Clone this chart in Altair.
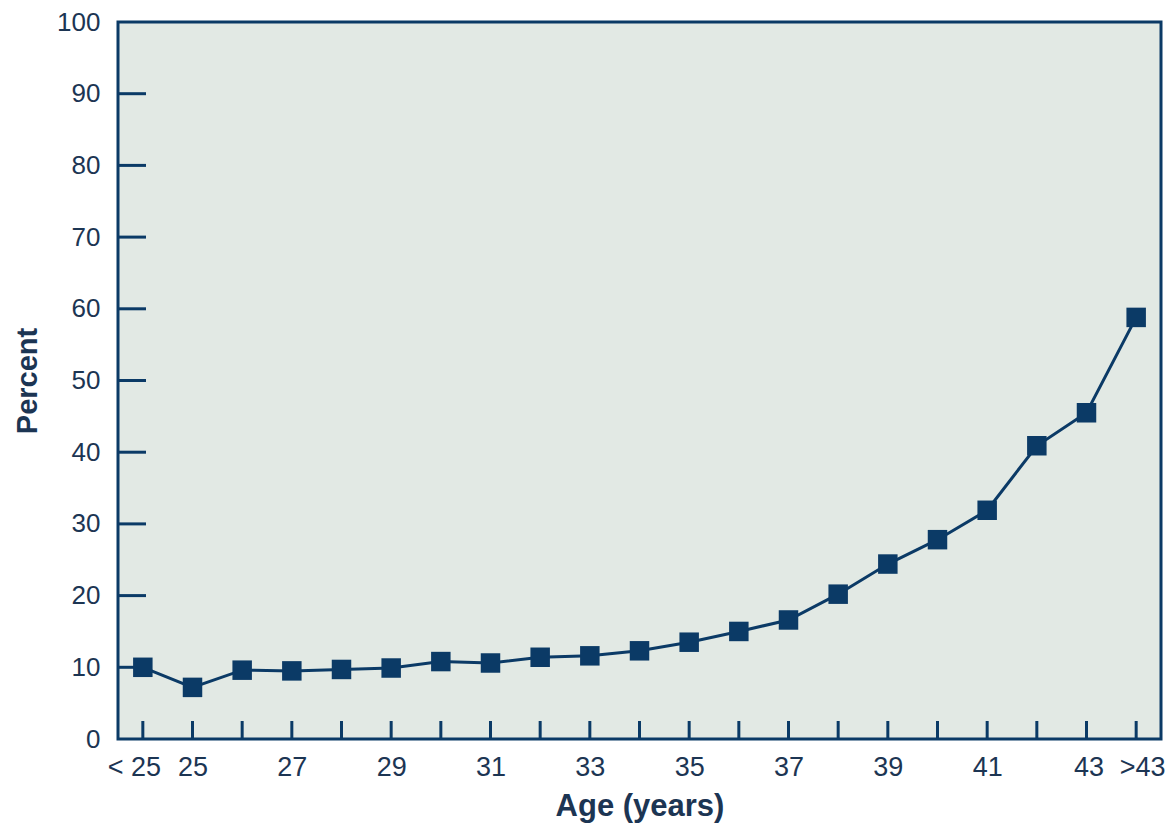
import altair as alt
import pandas as pd

ages = ["<25", "25", "26", "27", "28", "29", "30", "31", "32", "33", "34",
        "35", "36", "37", "38", "39", "40", "41", "42", "43", ">43"]
percent = [10.0, 7.2, 9.6, 9.5, 9.7, 9.9, 10.8, 10.6, 11.4, 11.6, 12.3,
           13.5, 15.0, 16.6, 20.2, 24.4, 27.8, 31.9, 40.9, 45.5, 58.8]
x_label_values = ["<25", "25", "27", "29", "31", "33", "35", "37", "39", "41", "43", ">43"]
y_tick_values = [10, 20, 30, 40, 50, 60, 70, 80, 90]

NAVY = "#0b3a66"
TEXT = "#1c3553"
FONT = "Liberation Sans"

df = pd.DataFrame({"age": ages, "pct": percent})
ytick_df = pd.DataFrame({"v": y_tick_values})

W, H = 1043, 717

xscale = alt.Scale(type="point", domain=ages, padding=0.5)
yscale = alt.Scale(domain=[0, 100])

x_enc = alt.X(
    "age:N", scale=xscale, sort=ages,
    axis=alt.Axis(
        title="Age (years)", values=x_label_values, ticks=False, domain=False,
        grid=False, labelAngle=0, labelAlign="center", labelFontSize=27,
        labelPadding=28, labelColor=TEXT, labelFont=FONT,
        labelExpr="datum.value == '<25' ? '< 25' : datum.value",
        labelOffset={
            "condition": [
                {"test": "datum.value == '<25'", "value": -9},
                {"test": "datum.value == '>43'", "value": 6},
                {"test": "datum.value == '43'", "value": 2},
            ],
            "value": 0,
        },
        titleFontSize=31, titleFont=FONT, titleFontWeight="bold",
        titleColor=TEXT, titlePadding=11,
    ),
)
y_enc = alt.Y(
    "pct:Q", scale=yscale,
    axis=alt.Axis(
        title="Percent", values=list(range(0, 101, 10)), ticks=False,
        domain=False, grid=False, labelFontSize=26, labelPadding=18,
        labelColor=TEXT, labelFont=FONT,
        titleFontSize=29, titleFont=FONT, titleFontWeight="bold",
        titleColor=TEXT, titlePadding=14,
    ),
)

line = alt.Chart(df).mark_line(color=NAVY, strokeWidth=3).encode(x=x_enc, y=y_enc)
pts = alt.Chart(df).mark_point(
    shape="square", filled=True, size=380, color=NAVY, opacity=1
).encode(x=alt.X("age:N", scale=xscale, sort=ages), y=alt.Y("pct:Q", scale=yscale))

xticks = alt.Chart(df).mark_rule(color=NAVY, strokeWidth=3).encode(
    x=alt.X("age:N", scale=xscale, sort=ages),
    y=alt.value(H - 18), y2=alt.value(H),
)
yticks = alt.Chart(ytick_df).mark_rule(color=NAVY, strokeWidth=3).encode(
    y=alt.Y("v:Q", scale=yscale),
    x=alt.value(0), x2=alt.value(28),
)

chart = alt.layer(xticks, yticks, line, pts).properties(
    width=W, height=H,
    autosize=alt.AutoSizeParams(type="none"),
    padding={"left": 110, "top": 14, "right": 6, "bottom": 84},
    background="white",
).configure_view(
    fill="#e2e9e4", stroke=NAVY, strokeWidth=3,
)

chart.save("out.html", embed_options={"renderer": "svg", "actions": False})
